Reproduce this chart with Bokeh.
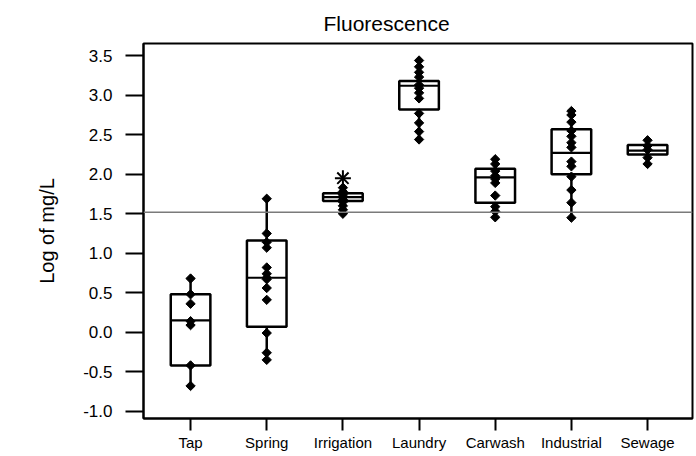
import math
from bokeh.plotting import figure
from bokeh.models import FixedTicker, PrintfTickFormatter, Span, ColumnDataSource
from bokeh.embed import file_html
from bokeh.resources import INLINE

# ---- data ----
categories = ["Tap", "Spring", "Irrigation", "Laundry", "Carwash", "Industrial", "Sewage"]

tap_pts = [0.68, 0.48, 0.36, 0.14, 0.09, -0.42, -0.68]
spring_pts = [1.69, 1.25, 1.14, 1.07, 0.82, 0.74, 0.69, 0.67, 0.56, 0.41, -0.01, -0.26, -0.35]
irrigation_pts = [1.83, 1.78, 1.74, 1.71, 1.68, 1.65, 1.60, 1.55, 1.50]
laundry_pts = [3.44, 3.36, 3.29, 3.23, 3.13, 3.09, 3.03, 2.96, 2.77, 2.65, 2.54, 2.44]
carwash_pts = [2.19, 2.13, 2.04, 1.98, 1.94, 1.89, 1.73, 1.59, 1.53, 1.455]
industrial_pts = [2.80, 2.75, 2.66, 2.55, 2.48, 2.40, 2.34, 2.16, 2.10, 1.97, 1.80, 1.64, 1.45]
sewage_pts = [2.43, 2.36, 2.31, 2.21, 2.13]

q1 = [-0.42, 0.07, 1.66, 2.82, 1.64, 2.00, 2.25]
median = [0.15, 0.69, 1.71, 3.12, 1.96, 2.27, 2.30]
q3 = [0.48, 1.16, 1.76, 3.18, 2.07, 2.57, 2.37]
whisk_lo = [-0.68, -0.35, 1.50, 2.44, 1.455, 1.45, 2.13]
whisk_hi = [0.68, 1.69, 1.83, 3.44, 2.19, 2.80, 2.43]

outlier_cat = ["Irrigation"]
outlier_val = [1.95]

reference_level = 1.52
y_ticks = [-1.0, -0.5, 0.0, 0.5, 1.0, 1.5, 2.0, 2.5, 3.0, 3.5]

title_text = "Fluorescence"
y_label = "Log of mg/L"

# ---- build ----
FONT = "Liberation Sans"
pos = {c: i + 1 for i, c in enumerate(categories)}
xs = [pos[c] for c in categories]

p = figure(width=696, height=456, output_backend="svg", toolbar_location=None,
           x_range=(0.382, 7.59), y_range=(-1.092, 3.655),
           min_border_left=143, min_border_right=4, min_border_top=42, min_border_bottom=38)

p.title.text = title_text
p.title.align = "left"
p.title.offset = 180
p.title.text_font = FONT
p.title.text_font_style = "normal"
p.title.text_font_size = "21px"
p.title.text_color = "black"
p.title.standoff = 18

p.xgrid.visible = False
p.ygrid.visible = False
p.outline_line_color = "black"
p.outline_line_width = 2
p.background_fill_color = "white"
p.border_fill_color = "white"

# axes
p.xaxis.ticker = FixedTicker(ticks=xs)
p.xaxis.major_label_overrides = {pos[c]: c for c in categories}
p.xaxis.minor_tick_line_color = None
p.xaxis.major_tick_in = 0
p.xaxis.major_tick_out = 12
p.xaxis.major_tick_line_width = 2
p.xaxis.axis_line_width = 2
p.xaxis.major_label_text_font = FONT
p.xaxis.major_label_text_font_size = "15px"
p.xaxis.major_label_text_color = "black"
p.xaxis.major_label_standoff = 3

p.yaxis.ticker = FixedTicker(ticks=y_ticks)
p.yaxis.formatter = PrintfTickFormatter(format="%.1f")
p.yaxis.minor_tick_line_color = None
p.yaxis.major_tick_in = 0
p.yaxis.major_tick_out = 18
p.yaxis.major_tick_line_width = 2
p.yaxis.axis_line_width = 2
p.yaxis.major_label_text_font = FONT
p.yaxis.major_label_text_font_size = "17px"
p.yaxis.major_label_text_color = "black"
p.yaxis.major_label_standoff = 13
p.yaxis.axis_label = y_label
p.yaxis.axis_label_text_font = FONT
p.yaxis.axis_label_text_font_style = "normal"
p.yaxis.axis_label_text_font_size = "20px"
p.yaxis.axis_label_text_color = "black"
p.yaxis.axis_label_standoff = 22

# reference line
p.add_layout(Span(location=reference_level, dimension="width",
                  line_color="#7a7a7a", line_width=1.5))

# whiskers (outside the box only)
p.segment(x0=xs, y0=q3, x1=xs, y1=whisk_hi, line_color="black", line_width=2.5)
p.segment(x0=xs, y0=whisk_lo, x1=xs, y1=q1, line_color="black", line_width=2.5)

# boxes
bw = 0.52
p.quad(left=[x - bw / 2 for x in xs], right=[x + bw / 2 for x in xs],
       bottom=q1, top=q3, fill_alpha=0, line_color="black", line_width=2.5)
p.segment(x0=[x - bw / 2 for x in xs], y0=median, x1=[x + bw / 2 for x in xs], y1=median,
          line_color="black", line_width=2.2)

# points
series = [tap_pts, spring_pts, irrigation_pts, laundry_pts, carwash_pts, industrial_pts, sewage_pts]
px, py = [], []
for c, vals in zip(categories, series):
    px += [pos[c]] * len(vals)
    py += vals
src = ColumnDataSource(dict(x=px, y=py))
p.scatter("x", "y", source=src, marker="square", angle=math.pi / 4, size=6.6,
          fill_color="black", line_color="black", line_width=1)

# outlier asterisk
ox = [pos[c] for c in outlier_cat]
p.scatter(ox, outlier_val, marker="x", size=16, line_color="black", line_width=2)
p.scatter(ox, outlier_val, marker="cross", size=16, line_color="black", line_width=2)

open("out.html", "w").write(file_html(p, INLINE))
